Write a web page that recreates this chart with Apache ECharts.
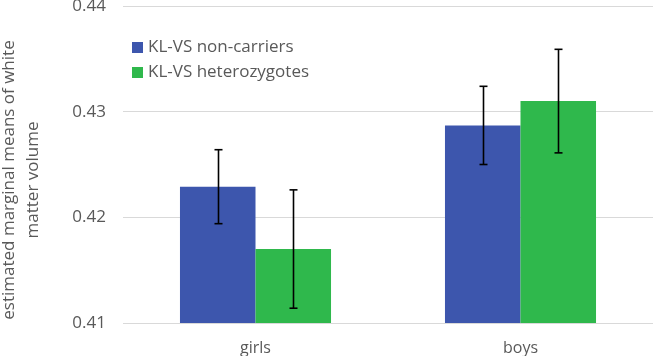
<!DOCTYPE html>
<html>
<head>
<meta charset="utf-8">
<script src="https://cdn.jsdelivr.net/npm/echarts@6/dist/echarts.min.js"></script>
<style>
  html, body { margin: 0; padding: 0; background: #fff; }
  #chart { width: 654px; height: 356px; }
</style>
</head>
<body>
<div id="chart"></div>
<script>
var categories = ['girls', 'boys'];
var seriesNames = ['KL-VS non-carriers', 'KL-VS heterozygotes'];
var nonCarriers = [0.4229, 0.4287];
var heterozygotes = [0.4170, 0.4310];
var nonCarriersErr = [0.0035, 0.0037];
var heterozygotesErr = [0.0056, 0.0049];
var yTicks = [0.41, 0.42, 0.43, 0.44];
var yTitle = 'estimated marginal means of white\nmatter volume';

var colors = ['#3d56ad', '#2fb84c'];
var font = 'Open Sans';

function errorSeries(values, errs, idx) {
    return {
        type: 'custom',
        name: seriesNames[idx] + ' error',
        z: 10,
        silent: true,
        data: values.map(function (v, i) { return [i, v - errs[i], v + errs[i]]; }),
        renderItem: function (params, api) {
            var lo = api.coord([api.value(0), api.value(1)]);
            var hi = api.coord([api.value(0), api.value(2)]);
            var band = api.size([1, 0])[0];
            var barW = band * 0.57 / 2;
            var x = lo[0] + (idx === 0 ? -barW / 2 : barW / 2);
            x = Math.round(x) + 0.5;
            var cap = 4;
            var st = { stroke: '#000', lineWidth: 1.6 };
            return {
                type: 'group',
                children: [
                    { type: 'line', shape: { x1: x, y1: lo[1], x2: x, y2: hi[1] }, style: st },
                    { type: 'line', shape: { x1: x - cap, y1: lo[1], x2: x + cap, y2: lo[1] }, style: st },
                    { type: 'line', shape: { x1: x - cap, y1: hi[1], x2: x + cap, y2: hi[1] }, style: st }
                ]
            };
        }
    };
}

var chart = echarts.init(document.getElementById('chart'));
var option = {
    animation: false,
    textStyle: { fontFamily: font },
    legend: {
        orient: 'vertical',
        left: 127,
        top: 34,
        itemWidth: 11,
        itemHeight: 11,
        itemGap: 8,
        icon: 'rect',
        data: seriesNames,
        textStyle: { color: '#595959', fontSize: 17, fontFamily: font }
    },
    // y axis title drawn as rotated text, centred a bit below the plot middle
    graphic: [{
        type: 'text',
        x: 21,
        y: 180,
        rotation: Math.PI / 2,
        silent: true,
        style: {
            text: yTitle,
            fill: '#595959',
            font: '17px "Open Sans"',
            lineHeight: 24,
            align: 'center',
            verticalAlign: 'middle'
        }
    }],
    grid: { left: 123, right: 1, top: 6, bottom: 33, outerBoundsMode: 'none' },
    xAxis: {
        type: 'category',
        data: categories,
        axisLine: { show: false },
        axisTick: { show: false },
        axisLabel: { color: '#595959', fontSize: 16, margin: 17 }
    },
    yAxis: {
        type: 'value',
        min: yTicks[0],
        max: yTicks[yTicks.length - 1],
        interval: 0.01,
        axisLine: { show: false },
        axisTick: { show: false },
        axisLabel: {
            color: '#595959', fontSize: 17, margin: 17,
            formatter: function (v) { return v.toFixed(2); }
        },
        splitLine: { lineStyle: { color: '#d9d9d9', width: 1 } }
    },
    series: [
        {
            name: seriesNames[0], type: 'bar', data: nonCarriers,
            barGap: '0%', barCategoryGap: '43%',
            itemStyle: { color: colors[0] }
        },
        {
            name: seriesNames[1], type: 'bar', data: heterozygotes,
            barGap: '0%', barCategoryGap: '43%',
            itemStyle: { color: colors[1] }
        },
        errorSeries(nonCarriers, nonCarriersErr, 0),
        errorSeries(heterozygotes, heterozygotesErr, 1)
    ]
};
chart.setOption(option);
</script>
</body>
</html>
